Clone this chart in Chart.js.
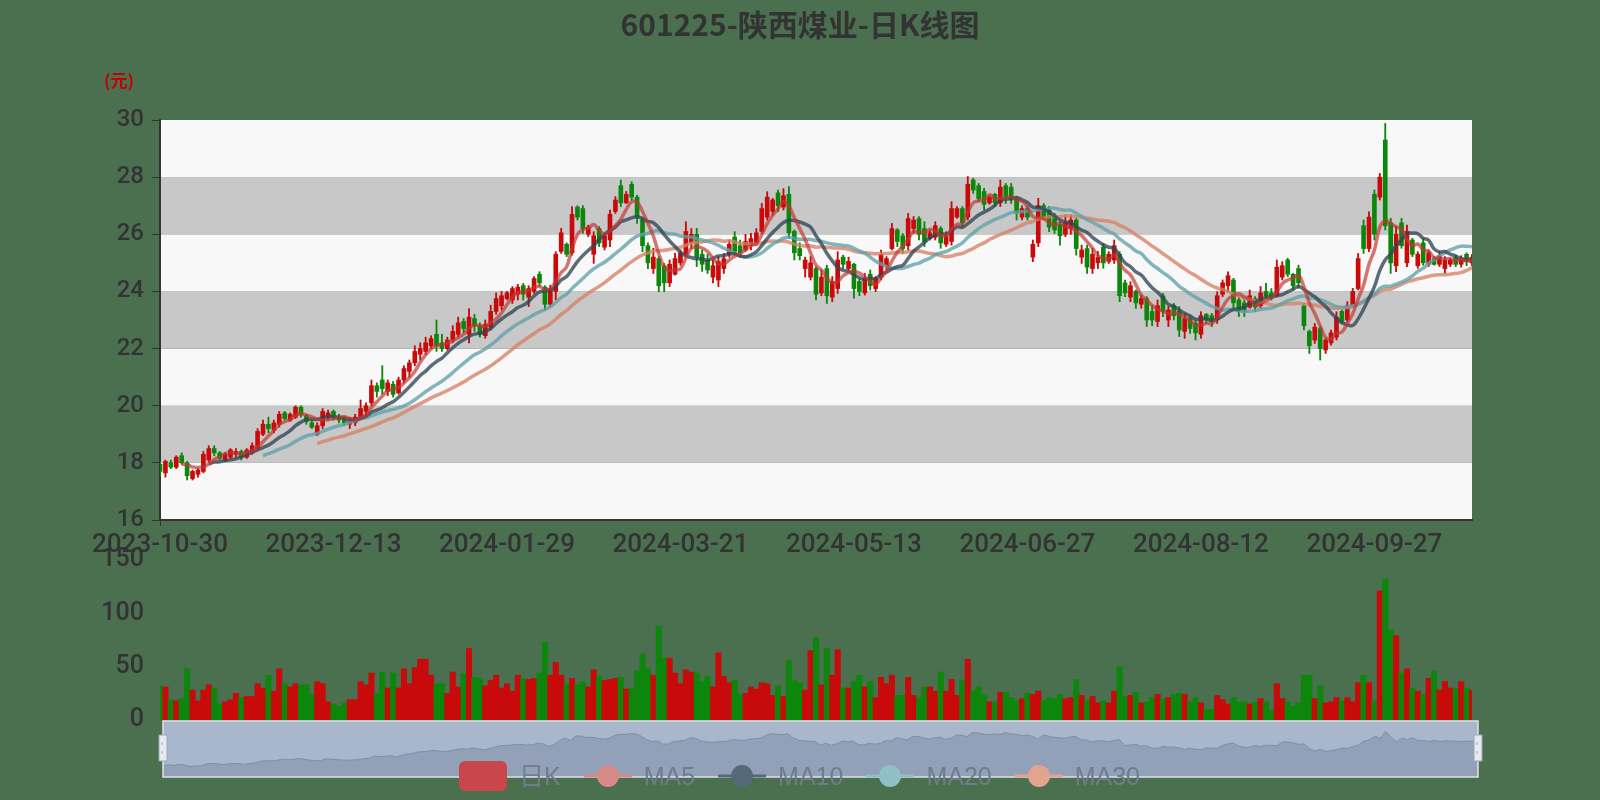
<!DOCTYPE html>
<html lang="zh-CN">
<head>
<meta charset="utf-8">
<title>601225-陕西煤业-日K线图</title>
<script src="https://cdn.jsdelivr.net/npm/chart.js@4.4.1/dist/chart.umd.min.js"></script>
<style>
  html, body { margin:0; padding:0; }
  body { width:1600px; height:800px; background:#4a7050; overflow:hidden; position:relative;
         font-family:"Liberation Sans", Arial, "Noto Sans CJK SC", sans-serif; }
  canvas { position:absolute; left:0; top:0; }
  #title { position:absolute; left:0; top:3px; width:1600px; text-align:center;
           font-family:"Noto Sans CJK SC", sans-serif; font-weight:bold; font-size:30px;
           color:#333; line-height:40px; }
  #unit { position:absolute; left:104px; top:68px; font-family:"Noto Sans CJK SC", sans-serif;
          font-size:17px; font-weight:bold; color:#c40000; line-height:24px; }
  #legend { position:absolute; left:459px; top:761px; height:30px; display:flex; align-items:center; }
  .item { display:flex; align-items:center; margin-right:23px; }
  .item svg { display:block; }
  .item span { margin-left:12px; font-size:25px; color:#707b8e; line-height:30px;
               font-family:"Liberation Sans", Arial, "Noto Sans CJK SC", sans-serif; }
</style>
</head>
<body>
<canvas id="price" width="1600" height="800"></canvas>
<canvas id="volume" width="1600" height="800"></canvas>
<canvas id="slider" width="1600" height="800"></canvas>
<div id="title">601225-陕西煤业-日K线图</div>
<div id="unit">(元)</div>
<div id="legend">
  <div class="item"><svg width="48" height="30"><rect x="0" y="0" width="48" height="30" rx="6" fill="#c9474a"/></svg><span>日K</span></div>
  <div class="item"><svg width="48" height="30"><line x1="0" y1="15" x2="48" y2="15" stroke="#d98a86" stroke-width="3"/><circle cx="24" cy="15" r="11" fill="#d98a86"/></svg><span>MA5</span></div>
  <div class="item"><svg width="48" height="30"><line x1="0" y1="15" x2="48" y2="15" stroke="#56697a" stroke-width="3"/><circle cx="24" cy="15" r="11" fill="#56697a"/></svg><span>MA10</span></div>
  <div class="item"><svg width="48" height="30"><line x1="0" y1="15" x2="48" y2="15" stroke="#8fc0c5" stroke-width="3"/><circle cx="24" cy="15" r="11" fill="#8fc0c5"/></svg><span>MA20</span></div>
  <div class="item"><svg width="48" height="30"><line x1="0" y1="15" x2="48" y2="15" stroke="#e3a48e" stroke-width="3"/><circle cx="24" cy="15" r="11" fill="#e3a48e"/></svg><span>MA30</span></div>
</div>
<script>
// ---------------- data ----------------
const dates = [
'2023-10-30','2023-10-31','2023-11-01','2023-11-02','2023-11-03',
'2023-11-06','2023-11-07','2023-11-08','2023-11-09','2023-11-10',
'2023-11-13','2023-11-14','2023-11-15','2023-11-16','2023-11-17',
'2023-11-20','2023-11-21','2023-11-22','2023-11-23','2023-11-24',
'2023-11-27','2023-11-28','2023-11-29','2023-11-30','2023-12-01',
'2023-12-04','2023-12-05','2023-12-06','2023-12-07','2023-12-08',
'2023-12-11','2023-12-12','2023-12-13','2023-12-14','2023-12-15',
'2023-12-18','2023-12-19','2023-12-20','2023-12-21','2023-12-22',
'2023-12-25','2023-12-26','2023-12-27','2023-12-28','2023-12-29',
'2024-01-02','2024-01-03','2024-01-04','2024-01-05',
'2024-01-08','2024-01-09','2024-01-10','2024-01-11','2024-01-12',
'2024-01-15','2024-01-16','2024-01-17','2024-01-18','2024-01-19',
'2024-01-22','2024-01-23','2024-01-24','2024-01-25','2024-01-26',
'2024-01-29','2024-01-30','2024-01-31','2024-02-01','2024-02-02',
'2024-02-05','2024-02-06','2024-02-07','2024-02-08',
'2024-02-19','2024-02-20','2024-02-21','2024-02-22','2024-02-23',
'2024-02-26','2024-02-27','2024-02-28','2024-02-29','2024-03-01',
'2024-03-04','2024-03-05','2024-03-06','2024-03-07','2024-03-08',
'2024-03-11','2024-03-12','2024-03-13','2024-03-14','2024-03-15',
'2024-03-18','2024-03-19','2024-03-20','2024-03-21','2024-03-22',
'2024-03-25','2024-03-26','2024-03-27','2024-03-28','2024-03-29',
'2024-04-01','2024-04-02','2024-04-03',
'2024-04-08','2024-04-09','2024-04-10','2024-04-11','2024-04-12',
'2024-04-15','2024-04-16','2024-04-17','2024-04-18','2024-04-19',
'2024-04-22','2024-04-23','2024-04-24','2024-04-25','2024-04-26',
'2024-04-29','2024-04-30',
'2024-05-06','2024-05-07','2024-05-08','2024-05-09','2024-05-10',
'2024-05-13','2024-05-14','2024-05-15','2024-05-16','2024-05-17',
'2024-05-20','2024-05-21','2024-05-22','2024-05-23','2024-05-24',
'2024-05-27','2024-05-28','2024-05-29','2024-05-30','2024-05-31',
'2024-06-03','2024-06-04','2024-06-05','2024-06-06','2024-06-07',
'2024-06-11','2024-06-12','2024-06-13','2024-06-14',
'2024-06-17','2024-06-18','2024-06-19','2024-06-20','2024-06-21',
'2024-06-24','2024-06-25','2024-06-26','2024-06-27','2024-06-28',
'2024-07-01','2024-07-02','2024-07-03','2024-07-04','2024-07-05',
'2024-07-08','2024-07-09','2024-07-10','2024-07-11','2024-07-12',
'2024-07-15','2024-07-16','2024-07-17','2024-07-18','2024-07-19',
'2024-07-22','2024-07-23','2024-07-24','2024-07-25','2024-07-26',
'2024-07-29','2024-07-30','2024-07-31','2024-08-01','2024-08-02',
'2024-08-05','2024-08-06','2024-08-07','2024-08-08','2024-08-09',
'2024-08-12','2024-08-13','2024-08-14','2024-08-15','2024-08-16',
'2024-08-19','2024-08-20','2024-08-21','2024-08-22','2024-08-23',
'2024-08-26','2024-08-27','2024-08-28','2024-08-29','2024-08-30',
'2024-09-02','2024-09-03','2024-09-04','2024-09-05','2024-09-06',
'2024-09-09','2024-09-10','2024-09-11','2024-09-12','2024-09-13',
'2024-09-18','2024-09-19','2024-09-20',
'2024-09-23','2024-09-24','2024-09-25','2024-09-26','2024-09-27',
'2024-09-30',
'2024-10-08','2024-10-09','2024-10-10','2024-10-11',
'2024-10-14','2024-10-15','2024-10-16','2024-10-17','2024-10-18',
'2024-10-21','2024-10-22','2024-10-23','2024-10-24','2024-10-25',
'2024-10-28','2024-10-29','2024-10-30'
];

const opens = [
17.95,17.65,18.0,17.85,18.25,18.0,17.45,17.6,17.7,18.1,
18.5,18.35,18.1,18.2,18.3,18.4,18.2,18.35,18.5,19.0,
19.35,19.15,19.35,19.75,19.5,19.6,19.95,19.65,19.4,19.0,
19.3,19.6,19.8,19.6,19.55,19.35,19.4,19.6,19.8,20.1,
20.7,20.9,20.5,20.75,20.45,20.9,21.2,21.5,21.8,21.9,
22.1,22.5,22.2,22.0,22.3,22.5,22.95,22.5,23.05,22.8,
22.45,22.75,23.3,23.5,23.75,23.7,23.9,24.2,23.8,24.0,
24.6,24.15,23.55,24.0,25.4,25.65,25.35,26.95,26.9,26.0,
25.3,26.2,25.55,25.8,26.8,27.7,27.1,27.75,27.3,26.5,
25.6,24.8,25.15,24.9,24.3,24.6,25.0,25.3,25.7,26.0,
25.3,25.1,24.5,24.4,24.8,25.3,25.9,25.6,25.45,25.6,
25.7,26.1,26.6,26.8,27.45,26.95,27.4,26.1,25.5,24.8,
24.5,24.8,23.95,24.8,23.8,24.1,25.2,24.8,24.95,24.35,
23.95,24.6,24.1,24.5,24.9,25.5,26.15,25.95,25.6,26.2,
26.55,26.2,25.85,25.9,26.2,25.65,25.75,26.6,26.9,26.6,
27.9,27.7,27.5,27.1,27.4,27.1,27.7,27.65,27.25,26.6,
26.9,25.2,25.7,27.0,26.85,26.6,26.35,26.0,26.2,26.5,
25.2,25.5,24.8,25.0,25.55,25.05,25.1,25.3,24.3,23.8,
24.0,23.55,23.75,23.3,22.95,23.85,23.0,23.5,23.3,22.6,
23.05,22.9,22.5,23.2,23.15,23.0,23.9,24.2,24.4,23.7,
23.6,23.45,23.75,23.5,24.0,23.95,23.85,24.5,25.1,24.6,
24.8,23.5,22.6,22.3,22.7,21.95,22.2,22.4,23.3,23.0,
23.5,24.1,26.3,25.5,27.4,27.3,29.3,26.4,24.9,26.4,
25.0,25.8,24.9,25.7,24.95,25.15,24.95,24.8,24.95,25.2,
24.95,25.3,25.0
];

const closes = [
17.7,18.05,17.85,18.2,18.0,17.55,17.7,17.75,18.3,18.5,
18.35,18.15,18.3,18.45,18.4,18.2,18.45,18.6,19.1,19.35,
19.2,19.4,19.7,19.55,19.7,19.95,19.7,19.45,19.25,19.3,
19.8,19.75,19.6,19.5,19.4,19.5,19.6,19.9,20.0,20.7,
20.5,20.6,20.8,20.4,20.9,21.3,21.5,21.9,22.0,22.2,
22.35,22.1,22.0,22.3,22.6,22.9,22.7,23.1,22.8,22.5,
22.85,23.3,23.75,23.85,23.95,24.1,24.15,23.9,24.1,24.45,
24.3,23.55,24.1,25.3,26.05,25.3,26.7,26.6,26.2,26.25,
25.95,25.7,25.95,26.7,27.2,27.1,27.4,27.3,26.6,25.6,
25.0,25.2,24.2,24.3,24.95,25.15,25.35,26.1,26.0,25.2,
24.95,24.75,24.9,25.05,25.15,25.65,25.4,25.35,25.75,25.85,
26.05,26.9,27.3,27.2,27.0,27.35,26.05,25.35,25.25,25.1,
25.0,23.9,24.5,23.85,24.35,25.1,24.95,25.05,24.1,24.0,
24.45,24.2,24.45,25.3,25.15,26.2,25.75,25.5,26.55,26.5,
26.0,25.75,26.05,26.3,25.7,25.95,26.9,26.9,26.4,27.75,
27.55,27.25,27.05,27.3,27.1,27.65,27.3,27.2,26.75,26.9,
26.6,25.65,27.0,26.6,26.25,26.15,25.95,26.4,26.5,25.5,
25.45,24.85,25.3,25.2,25.0,25.3,25.6,23.85,23.95,24.2,
23.6,23.75,23.0,23.0,23.5,23.3,23.35,23.15,22.65,23.05,
22.7,22.55,23.15,23.0,22.95,23.85,24.3,24.55,23.6,23.3,
23.3,23.85,23.45,23.95,23.85,23.8,24.85,24.9,24.6,24.2,
24.3,22.8,22.1,22.75,22.0,22.3,22.55,23.1,22.95,23.5,
24.0,25.15,25.5,26.6,26.0,28.0,26.3,25.0,26.0,25.6,
26.1,25.3,25.3,25.0,25.35,24.95,25.25,25.1,25.1,24.95,
25.15,25.05,25.2
];

const lows = [
17.55,17.5,17.8,17.8,17.95,17.4,17.4,17.5,17.65,18.05,
18.25,18.1,18.05,18.15,18.2,18.1,18.15,18.3,18.45,18.95,
19.05,19.05,19.25,19.5,19.45,19.55,19.6,19.35,19.2,18.95,
19.2,19.5,19.5,19.4,19.3,19.2,19.3,19.55,19.6,20.0,
20.3,20.4,20.35,20.3,20.4,20.8,21.0,21.4,21.6,21.8,
22.0,21.9,21.9,21.95,22.2,22.4,22.55,22.2,22.6,22.4,
22.36,22.65,23.2,23.35,23.7,23.58,23.7,23.7,23.47,23.93,
24.17,23.35,23.47,23.7,25.33,25.22,25.27,26.5,26.03,25.92,
24.98,25.57,25.45,25.57,26.73,26.97,27.08,27.2,26.38,25.39,
24.8,24.63,23.99,23.99,24.17,24.57,24.92,25.22,25.5,24.87,
24.7,24.63,24.3,24.17,24.63,25.2,25.27,25.2,25.4,25.45,
25.6,26.03,26.5,26.67,26.79,26.85,25.86,25.1,25.1,24.5,
24.4,23.7,23.85,23.58,23.64,23.93,24.8,24.75,23.76,23.85,
23.87,24.05,23.99,24.4,24.75,25.45,25.57,25.33,25.45,26.03,
25.8,25.57,25.8,25.8,25.51,25.57,25.62,26.56,26.27,26.5,
27.43,27.14,26.85,27.05,26.97,26.97,27.08,27.08,26.5,26.5,
26.5,25.04,25.57,26.5,26.09,26.03,25.62,25.92,26.0,25.27,
24.98,24.63,24.63,24.8,24.81,24.98,24.98,23.64,23.82,23.64,
23.41,23.41,22.77,22.8,22.77,23.12,22.77,23.0,22.42,22.36,
22.53,22.3,22.36,22.88,22.77,22.88,23.82,23.99,23.41,23.12,
23.12,23.41,23.29,23.41,23.76,23.7,23.82,24.4,24.52,24.05,
24.11,22.65,21.83,22.18,21.6,21.83,22.12,22.3,22.88,22.94,
23.47,24.05,25.33,25.39,25.8,27.2,26.15,24.63,24.69,25.51,
24.87,25.22,24.81,24.92,24.87,24.92,24.87,24.63,24.87,24.87,
24.85,24.9,24.9
];

const highs = [
18.05,18.1,18.1,18.25,18.35,18.05,17.75,17.8,18.4,18.6,
18.6,18.4,18.35,18.5,18.5,18.45,18.5,18.7,19.2,19.5,
19.6,19.5,19.8,19.8,19.75,20.0,20.0,19.7,19.5,19.4,
19.9,19.85,19.85,19.7,19.6,19.6,19.7,20.2,20.1,20.9,
20.8,21.4,20.9,20.85,21.0,21.4,21.6,22.1,22.2,22.4,
22.45,23.0,22.5,22.4,22.8,23.1,23.05,23.4,23.2,22.9,
23.0,23.52,23.95,24.0,24.0,24.17,24.25,24.28,24.2,24.52,
24.69,24.2,24.22,25.39,26.21,25.7,26.97,27.0,27.0,26.32,
26.09,26.27,26.03,26.85,27.32,27.9,27.5,27.84,27.37,26.6,
25.7,25.51,25.22,24.98,25.1,25.33,25.45,26.44,26.2,26.21,
25.45,25.3,25.1,25.22,25.33,25.8,26.09,25.8,26.0,26.03,
26.2,27.08,27.49,27.26,27.55,27.6,27.67,26.15,25.7,25.2,
25.22,24.87,24.75,24.92,24.52,25.39,25.27,25.2,24.98,24.45,
24.63,24.75,24.52,25.45,25.22,26.38,26.2,26.03,26.73,26.62,
26.62,26.44,26.15,26.44,26.27,26.09,27.14,26.97,26.97,28.02,
27.96,27.78,27.61,27.35,27.43,27.9,27.78,27.78,27.32,27.0,
26.97,25.8,27.26,27.08,26.97,26.73,26.44,26.67,26.67,26.56,
25.62,25.62,25.51,25.4,25.68,25.39,25.8,25.39,24.4,24.34,
24.05,23.87,23.82,23.5,23.7,23.93,23.47,23.58,23.47,23.23,
23.12,23.0,23.29,23.23,23.23,23.99,24.4,24.69,24.46,23.82,
23.7,24.05,23.82,24.17,24.28,24.1,25.1,25.04,25.16,24.63,
24.92,23.58,22.65,22.88,22.77,22.36,22.65,23.29,23.35,23.64,
24.11,25.33,26.5,26.79,27.55,28.13,29.88,26.56,26.27,26.56,
26.32,25.86,25.39,25.86,25.45,25.22,25.39,25.22,25.16,25.27,
25.25,25.35,25.3
];

const volumes = [
32,31,19,18,20,48,28,18,28,33,
30,15,17,19,25,21,22,22,34,30,
42,27,48,34,31,34,33,33,24,36,
34,17,15,13,16,19,19,36,33,44,
25,45,30,44,30,48,34,49,57,57,
42,34,34,25,45,31,43,67,40,39,
32,37,42,30,34,27,42,39,38,39,
44,73,42,54,42,34,39,33,36,31,
47,41,37,38,39,40,29,30,46,62,
48,42,88,58,58,44,34,47,45,44,
36,41,31,63,41,35,37,24,25,31,
29,35,34,23,32,22,56,37,35,28,
65,77,33,67,42,66,30,30,36,42,
31,36,21,40,34,42,23,23,40,23,
21,31,31,27,45,27,38,23,37,57,
27,31,24,17,17,26,26,21,18,20,
25,24,27,18,21,20,24,20,21,38,
23,19,22,16,18,16,27,50,22,23,
26,16,17,21,24,20,21,24,25,24,
17,21,16,10,10,23,19,15,21,17,
17,15,17,20,17,9,34,20,17,13,
16,42,42,20,32,16,17,21,18,21,
17,35,42,35,18,121,132,84,79,44,
48,30,27,24,39,46,28,36,30,29,
36,30,28
];

const priceAxis = { min: 16, max: 30, step: 2 };
const volumeAxis = { min: 0, max: 150, step: 50 };
const labelEvery = 32;

// ---------------- styles ----------------
const UP = '#c80a0a', DOWN = '#0c870c';
const MA_COLORS = {
  MA5: 'rgba(194,53,49,0.68)',
  MA10: 'rgba(47,69,84,0.78)',
  MA20: 'rgba(97,160,168,0.78)',
  MA30: 'rgba(212,130,101,0.78)'
};
const BAND_LIGHT = '#f8f8f8', BAND_DARK = '#c8c8c8';
const AXIS = '#333';
Chart.defaults.font.family = 'Roboto, "Liberation Sans", Arial, sans-serif';
const TICK_WEIGHT = 500;

function movingAverage(n) {
  return closes.map((_, i) => {
    if (i < n - 1) return null;
    let s = 0;
    for (let k = i - n + 1; k <= i; k++) s += closes[k];
    return +(s / n).toFixed(3);
  });
}
const ma5 = movingAverage(5), ma10 = movingAverage(10), ma20 = movingAverage(20), ma30 = movingAverage(30);
const dirColors = closes.map((c, i) => (c >= opens[i] ? UP : DOWN));

// alternating horizontal bands in the price grid
const bandsPlugin = {
  id: 'bands',
  beforeDraw(chart) {
    const { ctx, chartArea: a } = chart;
    const y = chart.scales.y;
    ctx.save();
    let k = 0;
    for (let v = priceAxis.min; v < priceAxis.max; v += priceAxis.step, k++) {
      const top = y.getPixelForValue(v + priceAxis.step);
      const bot = y.getPixelForValue(v);
      ctx.fillStyle = k % 2 === 0 ? BAND_LIGHT : BAND_DARK;
      ctx.fillRect(a.left, top, a.right - a.left, bot - top);
    }
    ctx.restore();
  }
};

function lineDs(label, data) {
  return { type: 'line', label, data, borderColor: MA_COLORS[label], borderWidth: 3.5,
           pointRadius: 0, tension: 0.4, fill: false, order: 0, clip: 0 };
}

// ---------------- price (candlestick) chart ----------------
new Chart(document.getElementById('price'), {
  type: 'bar',
  data: {
    labels: dates,
    datasets: [
      lineDs('MA5', ma5), lineDs('MA10', ma10), lineDs('MA20', ma20), lineDs('MA30', ma30),
      { label: '日K', data: opens.map((o, i) => [o, closes[i]]), backgroundColor: dirColors,
        barThickness: 4, grouped: false, order: 1, clip: 0 },
      { label: '日K影线', data: lows.map((l, i) => [l, highs[i]]), backgroundColor: dirColors,
        barThickness: 1.2, grouped: false, order: 2, clip: 0 }
    ]
  },
  options: {
    responsive: false, animation: false, events: [],
    layout: { padding: { left: 60, right: 128, top: 120, bottom: 240 } },
    plugins: { legend: { display: false }, tooltip: { enabled: false } },
    scales: {
      x: {
        type: 'category', offset: false,
        grid: { offset: false, drawOnChartArea: false, drawTicks: true, tickLength: 6,
                color: c => (c.index % labelEvery === 0 ? AXIS : 'rgba(0,0,0,0)') },
        border: { display: true, color: AXIS, width: 2 },
        ticks: { autoSkip: false, maxRotation: 0, minRotation: 0, padding: 4, color: AXIS,
                 font: { size: 26, weight: TICK_WEIGHT },
                 callback: (v, i) => (i % labelEvery === 0 ? dates[i] : null) },
        afterFit: s => { s.height = 40; }
      },
      y: {
        min: priceAxis.min, max: priceAxis.max,
        ticks: { stepSize: priceAxis.step, color: AXIS, font: { size: 24, weight: TICK_WEIGHT }, padding: 8 },
        grid: { drawOnChartArea: false, drawTicks: true, tickLength: 8, color: AXIS },
        border: { display: true, color: AXIS, width: 2 },
        afterFit: s => { s.width = 100; }
      }
    }
  },
  plugins: [bandsPlugin]
});

// ---------------- volume chart ----------------
new Chart(document.getElementById('volume'), {
  type: 'bar',
  data: {
    labels: dates,
    datasets: [{ label: '成交量', data: volumes, backgroundColor: dirColors,
                 barPercentage: 1, categoryPercentage: 1, clip: 0 }]
  },
  options: {
    responsive: false, animation: false, events: [],
    layout: { padding: { left: 60, right: 128, top: 560, bottom: 80 } },
    plugins: { legend: { display: false }, tooltip: { enabled: false } },
    scales: {
      x: { type: 'category', offset: false, display: false, grid: { offset: false } },
      y: {
        min: volumeAxis.min, max: volumeAxis.max,
        ticks: { stepSize: volumeAxis.step, color: AXIS, font: { size: 25, weight: TICK_WEIGHT }, padding: 8 },
        grid: { display: false }, border: { display: false },
        afterFit: s => { s.width = 100; }
      }
    }
  }
});

// ---------------- data-zoom slider (overview) ----------------
const cLo = Math.min(...closes), cHi = Math.max(...closes);
const cPad = (cHi - cLo) * 0.3;
const sliderPlugin = {
  id: 'sliderFrame',
  beforeDraw(chart) {
    const { ctx, chartArea: a } = chart;
    ctx.save();
    ctx.fillStyle = '#a9b7cd';
    ctx.fillRect(a.left, a.top, a.right - a.left, a.bottom - a.top);
    ctx.restore();
  },
  afterDraw(chart) {
    const { ctx, chartArea: a } = chart;
    ctx.save();
    ctx.strokeStyle = '#dde2ea';
    ctx.lineWidth = 1.5;
    ctx.strokeRect(a.left, a.top, a.right - a.left, a.bottom - a.top);
    const hy = a.top + 14, hh = 26;
    [a.left, a.right].forEach(x => {
      ctx.fillStyle = '#e6eaf0';
      ctx.fillRect(x - 4, hy, 8, hh);
      ctx.strokeStyle = '#9aa6b8';
      ctx.lineWidth = 1;
      ctx.strokeRect(x - 4, hy, 8, hh);
      ctx.beginPath();
      ctx.moveTo(x - 1, hy + 7); ctx.lineTo(x - 1, hy + 10);
      ctx.moveTo(x - 1, hy + 16); ctx.lineTo(x - 1, hy + 19);
      ctx.stroke();
    });
    ctx.restore();
  }
};
new Chart(document.getElementById('slider'), {
  type: 'line',
  data: {
    labels: dates,
    datasets: [{ label: 'shadow', data: closes, borderColor: '#7f8ea6', borderWidth: 1,
                 backgroundColor: '#93a1b8', fill: 'start', pointRadius: 0, tension: 0 }]
  },
  options: {
    responsive: false, animation: false, events: [],
    layout: { padding: { left: 163, right: 122, top: 721, bottom: 23 } },
    plugins: { legend: { display: false }, tooltip: { enabled: false } },
    scales: {
      x: { type: 'category', offset: false, display: false },
      y: { display: false, min: cLo - cPad, max: cHi + cPad }
    }
  },
  plugins: [sliderPlugin]
});
</script>
</body>
</html>
